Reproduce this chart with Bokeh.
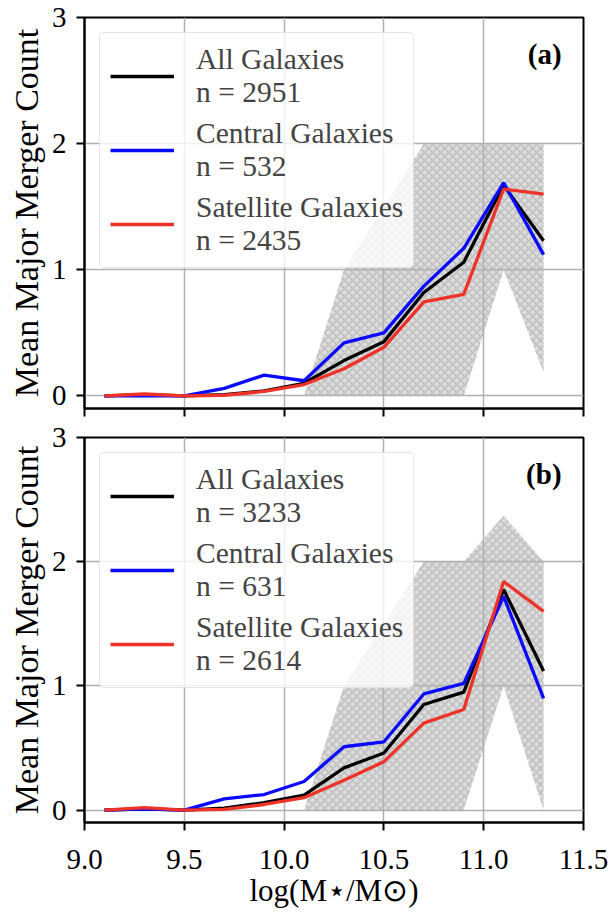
from bokeh.plotting import figure
from bokeh.models import Legend, LegendItem, Label, FixedTicker, Range1d
from bokeh.embed import file_html
from bokeh.resources import INLINE

# ---------------- data ----------------
log_mass = [9.1, 9.3, 9.5, 9.7, 9.9, 10.1, 10.3, 10.5, 10.7, 10.9, 11.1, 11.3]

a_all = [0.00, 0.01, 0.00, 0.01, 0.04, 0.10, 0.28, 0.43, 0.82, 1.06, 1.67, 1.23]
a_central = [0.00, 0.00, 0.00, 0.06, 0.165, 0.12, 0.42, 0.50, 0.87, 1.17, 1.69, 1.12]
a_satellite = [0.00, 0.015, 0.00, 0.005, 0.035, 0.09, 0.215, 0.385, 0.745, 0.805, 1.64, 1.60]
a_band_low = [0, 0, 0, 0, 0, 0, 0, 0, 0, 0, 1.0, 0.19]
a_band_high = [0, 0, 0, 0, 0, 0, 1.0, 1.5, 2.0, 2.0, 2.0, 2.0]
a_counts = [2951, 532, 2435]

b_all = [0.00, 0.01, 0.00, 0.015, 0.06, 0.12, 0.34, 0.46, 0.85, 0.95, 1.775, 1.12]
b_central = [0.00, 0.01, 0.00, 0.09, 0.125, 0.23, 0.51, 0.55, 0.935, 1.02, 1.72, 0.90]
b_satellite = [0.00, 0.02, 0.00, 0.005, 0.045, 0.10, 0.24, 0.39, 0.70, 0.81, 1.84, 1.60]
b_band_low = [0, 0, 0, 0, 0, 0, 0, 0, 0, 0, 1.0, 0.0]
b_band_high = [0, 0, 0, 0, 0, 0, 1.0, 1.5, 2.0, 2.0, 2.37, 2.0]
b_counts = [3233, 631, 2614]

series_names = ["All Galaxies", "Central Galaxies", "Satellite Galaxies"]
series_colors = ["#000000", "#0a0aff", "#ee3228"]

x_ticks = [9.0, 9.5, 10.0, 10.5, 11.0, 11.5]
x_tick_labels = ["9.0", "9.5", "10.0", "10.5", "11.0", "11.5"]
y_ticks = [0, 1, 2, 3]
y_tick_labels = ["0", "1", "2", "3"]

FONT = "Liberation Serif"


def make_panel(series, band_low, band_high, counts, tag, height, top, bottom, show_x):
    p = figure(width=614, height=height,
               x_range=Range1d(9.0, 11.5), y_range=Range1d(-0.1, 3.0),
               output_backend="svg", toolbar_location=None,
               min_border_left=84, min_border_right=31,
               min_border_top=top, min_border_bottom=bottom)
    p.background_fill_color = "white"
    p.border_fill_color = "white"
    p.outline_line_color = "black"
    p.outline_line_width = 2
    p.outline_line_alpha = 1.0

    band = p.varea(x=log_mass, y1=band_low, y2=band_high,
                   fill_color="#8c8c8c", fill_alpha=0.3,
                   hatch_pattern="x", hatch_color="#6e6e6e", hatch_alpha=0.3,
                   hatch_scale=8, hatch_weight=1.3)
    band.level = "image"

    items = []
    for name, ys, col, n in zip(series_names, series, series_colors, counts):
        r = p.line(log_mass, ys, line_color=col, line_width=3.3)
        items.append(LegendItem(label=f"{name}\nn = {n}", renderers=[r]))

    for g in (p.xgrid, p.ygrid):
        g.grid_line_color = "#b0b0b0"
        g.grid_line_width = 1.5
    p.xgrid.ticker = FixedTicker(ticks=x_ticks)
    p.ygrid.ticker = FixedTicker(ticks=y_ticks)

    for ax in (p.xaxis, p.yaxis):
        ax.axis_line_width = 2
        ax.axis_line_color = "black"
        ax.major_tick_line_width = 2
        ax.major_tick_line_color = "black"
        ax.major_tick_out = 8
        ax.major_tick_in = 0
        ax.minor_tick_line_color = None
        ax.major_label_text_font = FONT
        ax.major_label_text_font_size = "29px"
        ax.major_label_text_color = "black"
        ax.axis_label_text_font = FONT
        ax.axis_label_text_font_style = "normal"
        ax.axis_label_text_color = "black"

    p.xaxis.ticker = FixedTicker(ticks=x_ticks)
    p.yaxis.ticker = FixedTicker(ticks=y_ticks)
    p.yaxis.major_label_overrides = {t: l for t, l in zip(y_ticks, y_tick_labels)}
    p.yaxis.major_label_standoff = 10
    p.yaxis.axis_label = "Mean Major Merger Count"
    p.yaxis.axis_label_text_font_size = "34px"
    p.yaxis.axis_label_standoff = 4

    if show_x:
        p.xaxis.major_label_overrides = {t: l for t, l in zip(x_ticks, x_tick_labels)}
        p.xaxis.major_label_standoff = 19
        p.xaxis.axis_label = "log(M\u22c6/M\u2299)"
        p.xaxis.axis_label_text_font_size = "31px"
        p.xaxis.axis_label_standoff = 1
    else:
        p.xaxis.major_label_overrides = {t: "" for t in x_ticks}
        p.xaxis.major_label_standoff = 0

    legend = Legend(items=items, location="top_left", margin=15, padding=10,
                    spacing=8, glyph_width=64, glyph_height=30, label_standoff=22,
                    label_text_font=FONT, label_text_font_size="29.5px",
                    label_text_line_height=1.08,
                    border_line_color="#cccccc", border_line_width=1.5,
                    background_fill_color="white", background_fill_alpha=0.8)
    try:
        legend.border_radius = 5
    except Exception:
        pass
    p.add_layout(legend)

    p.add_layout(Label(x=11.39, y=2.71, text=tag, text_font=FONT,
                       text_font_size="29px", text_font_style="bold",
                       text_align="right", text_baseline="middle",
                       text_color="black"))
    return p


p1 = make_panel([a_all, a_central, a_satellite], a_band_low, a_band_high, a_counts,
                "(a)", 420, 17, 12, False)
p2 = make_panel([b_all, b_central, b_satellite], b_band_low, b_band_high, b_counts,
                "(b)", 494, 17, 92, True)

open("out.html", "w").write(file_html([p1, p2], INLINE))
